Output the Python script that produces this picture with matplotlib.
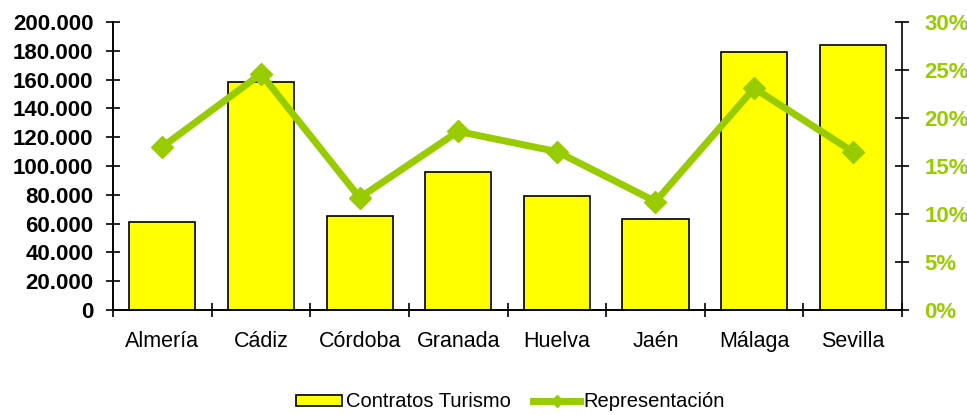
import numpy as np
import matplotlib.pyplot as plt
from matplotlib.ticker import FuncFormatter

plt.rcParams['font.family'] = ['Liberation Sans', 'DejaVu Sans']

# Datos
provincias = ['Almería', 'Cádiz', 'Córdoba', 'Granada', 'Huelva', 'Jaén', 'Málaga', 'Sevilla']
contratos = [60800, 158500, 65600, 95500, 79300, 63000, 179000, 183800]
representacion = [17.0, 24.6, 11.7, 18.6, 16.5, 11.3, 23.1, 16.5]

verde = '#99CC00'

fig = plt.figure(figsize=(9.67, 4.15), dpi=100)
ax = fig.add_axes([0.1169, 0.253, 0.8159, 0.694])
ax2 = ax.twinx()

x = np.arange(len(provincias))
barras = ax.bar(x, contratos, width=0.67, color='#FFFF00', edgecolor='black',
                linewidth=1.2, label='Contratos Turismo', zorder=2)
linea, = ax2.plot(x, representacion, color=verde, linewidth=5, marker='D',
                  markersize=11, label='Representación', zorder=3)

ax.set_xlim(-0.5, len(provincias) - 0.5)
ax.set_ylim(0, 200000)
ax2.set_ylim(0, 30)
ax.set_yticks(np.arange(0, 200001, 20000))
ax2.set_yticks(np.arange(0, 31, 5))
ax.yaxis.set_major_formatter(FuncFormatter(lambda v, p: f'{int(v):,}'.replace(',', '.')))
ax2.yaxis.set_major_formatter(FuncFormatter(lambda v, p: f'{int(v)}%'))

ax.set_xticks(x)
ax.set_xticklabels(provincias, fontsize=15.5)
ax.set_xticks(np.arange(-0.5, len(provincias)), minor=True)
ax.tick_params(axis='x', which='major', length=0, pad=15)
ax.tick_params(axis='x', which='minor', direction='inout', length=10, width=1.2)
ax.tick_params(axis='y', direction='inout', length=10, width=1.2, labelsize=16, pad=9)
ax2.tick_params(axis='y', direction='inout', length=10, width=1.2, labelsize=16,
                labelcolor=verde, pad=11)
for lbl in ax.get_yticklabels():
    lbl.set_fontweight('bold')
for lbl in ax2.get_yticklabels():
    lbl.set_fontweight('bold')

for a in (ax, ax2):
    a.spines['top'].set_visible(False)
    for s in ('left', 'right', 'bottom'):
        a.spines[s].set_linewidth(1.2)
ax.spines['right'].set_visible(False)

fig.legend([barras, linea], ['Contratos Turismo', 'Representación'],
           loc='lower center', bbox_to_anchor=(0.528, -0.035), ncol=2, frameon=False,
           fontsize=14.5, handlelength=2.3, handleheight=0.5, handletextpad=0.2,
           columnspacing=1.1, markerscale=0.6)

fig.savefig('out.png', dpi=100)
